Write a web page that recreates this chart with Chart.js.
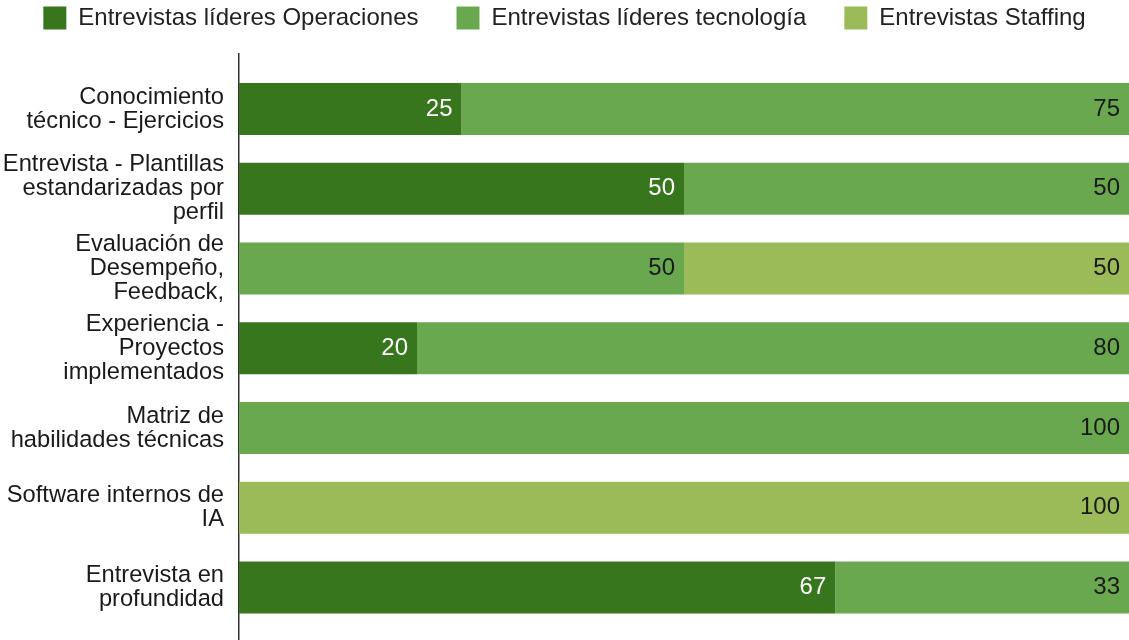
<!DOCTYPE html>
<html>
<head>
<meta charset="utf-8">
<script src="https://cdn.jsdelivr.net/npm/chart.js@4.4.0/dist/chart.umd.min.js"></script>
<style>
  html, body { margin: 0; padding: 0; background: #ffffff; }
  canvas { display: block; }
</style>
</head>
<body>
<canvas id="chart" width="1129" height="640"></canvas>
<script>
// Evaluation methods, one row each (line breaks as shown on the axis)
const categories = [
  ['Conocimiento', 'técnico - Ejercicios'],
  ['Entrevista - Plantillas', 'estandarizadas por', 'perfil'],
  ['Evaluación de', 'Desempeño,', 'Feedback,'],
  ['Experiencia -', 'Proyectos', 'implementados'],
  ['Matriz de', 'habilidades técnicas'],
  ['Software internos de', 'IA'],
  ['Entrevista en', 'profundidad']
];

const seriesNames = [
  'Entrevistas líderes Operaciones',
  'Entrevistas líderes tecnología',
  'Entrevistas Staffing'
];

// Share (%) of each interview group per method
const operaciones = [25, 50, null, 20, null, null, 67];
const tecnologia  = [75, 50, 50, 80, 100, null, 33];
const staffing    = [null, null, 50, null, null, 100, null];

const seriesColors = ['#38761d', '#6aa84f', '#9bbb59'];
const labelColors  = ['#ffffff', '#1a1a1a', '#1a1a1a'];

const FONT = "Arial, 'Liberation Sans', sans-serif";

// Writes each segment's value just inside its right end
const segmentValues = {
  id: 'segmentValues',
  afterDatasetsDraw(chart) {
    const ctx = chart.ctx;
    ctx.save();
    ctx.font = '24px ' + FONT;
    ctx.textAlign = 'right';
    ctx.textBaseline = 'middle';
    chart.data.datasets.forEach((ds, di) => {
      const meta = chart.getDatasetMeta(di);
      if (meta.hidden) return;
      meta.data.forEach((bar, i) => {
        const v = ds.data[i];
        if (v === null || v === undefined) return;
        ctx.fillStyle = labelColors[di];
        ctx.fillText(String(v), bar.x - 9, bar.y);
      });
    });
    ctx.restore();
  }
};

const seriesData = [operaciones, tecnologia, staffing];

new Chart(document.getElementById('chart'), {
  type: 'bar',
  data: {
    labels: categories.map((_, i) => i),
    datasets: seriesData.map((values, i) => ({
      label: seriesNames[i],
      data: values,
      backgroundColor: seriesColors[i],
      borderWidth: 0,
      barPercentage: 1,
      categoryPercentage: 0.652
    }))
  },
  options: {
    indexAxis: 'y',
    responsive: false,
    animation: false,
    layout: { padding: { left: 0, right: 0, top: -32, bottom: 0 } },
    plugins: {
      legend: {
        position: 'top',
        align: 'center',
        labels: {
          boxWidth: 23,
          boxHeight: 23,
          padding: 38,
          color: '#222222',
          font: { family: FONT, size: 24 }
        }
      },
      tooltip: { enabled: false }
    },
    scales: {
      x: {
        position: 'top',
        stacked: true,
        min: 0,
        max: 100,
        grid: { display: false, drawTicks: false },
        border: { display: false },
        ticks: { display: false },
        afterFit(scale) {
          scale.height = 14;
        }
      },
      y: {
        type: 'linear',
        offset: false,
        stacked: true,
        reverse: true,
        min: -0.69,
        max: 6.658,
        grid: { display: false, drawTicks: false },
        border: { display: true, color: '#333333', width: 1.5 },
        afterBuildTicks(scale) {
          scale.ticks = categories.map((_, i) => ({ value: i }));
        },
        afterFit(scale) {
          scale.width = 239;
          scale.paddingTop = 0;
          scale.paddingBottom = 0;
        },
        ticks: {
          padding: 15,
          color: '#1a1a1a',
          font: { family: FONT, size: 23.7, lineHeight: '24px' },
          callback: (value) => categories[value]
        }
      }
    }
  },
  plugins: [segmentValues]
});
</script>
</body>
</html>
